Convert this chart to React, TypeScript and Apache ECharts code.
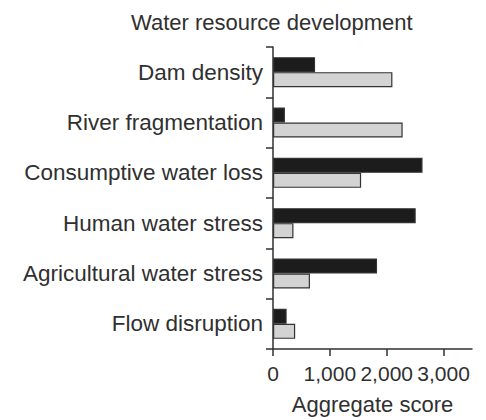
import React, { useEffect, useRef } from "react";
import * as echarts from "echarts";

const categories = [
  "Dam density",
  "River fragmentation",
  "Consumptive water loss",
  "Human water stress",
  "Agricultural water stress",
  "Flow disruption",
];
const darkSeries = [740, 210, 2630, 2510, 1830, 240];
const lightSeries = [2100, 2280, 1550, 360, 650, 390];
const xTicks = [0, 1000, 2000, 3000];

const FONT = "'Liberation Sans', Arial, Helvetica, sans-serif";
const INK = "#303030";

export default function App() {
  const ref = useRef<HTMLDivElement>(null);

  useEffect(() => {
    if (!ref.current) return;
    const chart = echarts.init(ref.current, undefined, { renderer: "svg" });
    chart.setOption({
      animation: false,
      backgroundColor: "#ffffff",
      title: {
        text: "Water resource development",
        left: 126,
        top: 6,
        textStyle: { fontFamily: FONT, fontSize: 22, fontWeight: "normal", color: INK },
      },
      grid: { left: 273, right: 14, top: 47, bottom: 67 },
      xAxis: {
        type: "value",
        min: 0,
        max: 3500,
        interval: 1000,
        name: "Aggregate score",
        nameLocation: "middle",
        nameGap: 44,
        nameTextStyle: { fontFamily: FONT, fontSize: 22, color: INK },
        splitLine: { show: false },
        axisLine: { show: true, lineStyle: { color: INK, width: 1.5 } },
        axisTick: { show: true, length: 7, lineStyle: { color: INK, width: 1.5 }, customValues: xTicks },
        axisLabel: {
          fontFamily: FONT,
          fontSize: 21,
          color: INK,
          margin: 14,
          customValues: xTicks,
          formatter: (v: number) => v.toLocaleString("en-US"),
        },
      },
      yAxis: {
        type: "category",
        data: categories,
        inverse: true,
        axisLine: { show: true, lineStyle: { color: INK, width: 1.5 } },
        axisTick: { show: true, length: 7, lineStyle: { color: INK, width: 1.5 } },
        axisLabel: { fontFamily: FONT, fontSize: 22.5, color: INK, margin: 10 },
      },
      series: [
        {
          type: "bar",
          data: darkSeries,
          barWidth: 15,
          barGap: "0%",
          itemStyle: { color: "#1c1c1c", borderColor: "#333333", borderWidth: 1.2 },
        },
        {
          type: "bar",
          data: lightSeries,
          barWidth: 15,
          barGap: "0%",
          itemStyle: { color: "#d3d3d3", borderColor: "#333333", borderWidth: 1.2 },
        },
      ],
    });
    return () => chart.dispose();
  }, []);

  return <div ref={ref} style={{ width: 486, height: 420, position: "absolute", left: 0, top: 0 }} />;
}
